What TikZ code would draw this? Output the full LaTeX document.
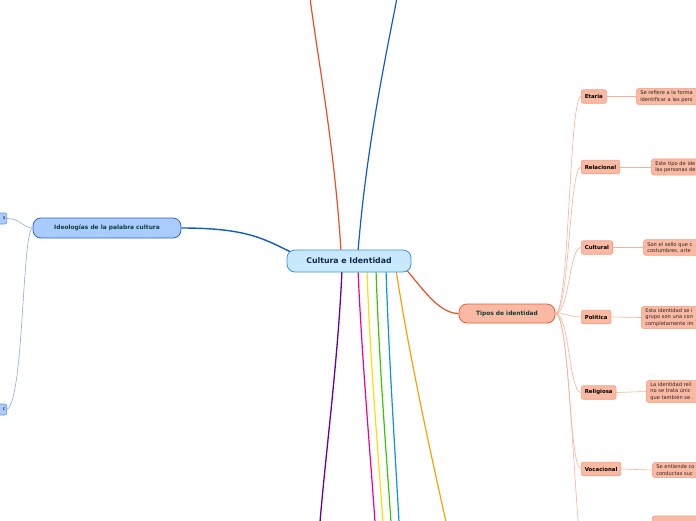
\documentclass[tikz,border=0pt]{standalone}
\usepackage{fontspec}
\setmainfont{DejaVu Sans}
\usepackage{xcolor}
\usepackage{tikz}
\usetikzlibrary{positioning}

\definecolor{ciFill}{HTML}{C8E9FB}
\definecolor{ciLine}{HTML}{3595D8}
\definecolor{ciText}{HTML}{14284F}
\definecolor{ideoFill}{HTML}{A9CBFE}
\definecolor{ideoLine}{HTML}{2E66C8}
\definecolor{tiposFill}{HTML}{F9B9A2}
\definecolor{tiposLine}{HTML}{EE5B36}
\definecolor{darkTeal}{HTML}{10403A}
\definecolor{childLine}{HTML}{F59E82}
\definecolor{branchBlue}{HTML}{0B5EC6}
\definecolor{branchRed}{HTML}{EE4E24}

\begin{document}
\begin{tikzpicture}[x=1pt, y=-1pt,
central/.style={rectangle, draw=ciLine, line width=0.8pt, fill=ciFill, rounded corners=8pt, minimum width=124pt, minimum height=22pt, align=center, text=ciText, font=\fontsize{7.8}{9}\selectfont\bfseries},
mainblue/.style={rectangle, draw=ideoLine, line width=0.8pt, fill=ideoFill, rounded corners=8pt, minimum width=148pt, minimum height=20pt, align=center, text=darkTeal, font=\fontsize{5.9}{7}\selectfont\bfseries},
mainred/.style={rectangle, draw=tiposLine, line width=0.8pt, fill=tiposFill, rounded corners=8pt, minimum width=96pt, minimum height=19pt, align=center, text=darkTeal, font=\fontsize{5.9}{7}\selectfont\bfseries},
tipo/.style={rectangle, draw=childLine, line width=0.6pt, fill=tiposFill, rounded corners=2pt, minimum height=13.5pt, inner xsep=3.5pt, inner ysep=0pt, anchor=west, font=\fontsize{5.4}{6}\selectfont\bfseries},
desc/.style={rectangle, draw=childLine, line width=0.6pt, fill=tiposFill, rounded corners=3pt, inner xsep=4pt, inner ysep=2.5pt, minimum width=120pt, anchor=west, align=left, text width=112pt, text=black!85, font=\fontsize{5.1}{6.2}\selectfont},
leaf/.style={rectangle, draw=ideoLine!70, line width=0.6pt, fill=ideoFill, rounded corners=2pt, minimum height=11pt, inner xsep=1.2pt, inner ysep=0pt, text width=12pt, anchor=east, align=right, font=\fontsize{4.8}{6}\selectfont},
link/.style={draw=childLine!80, line width=0.6pt},
bluelink/.style={draw=ideoLine!55, line width=0.6pt}
]
\useasboundingbox (0,0) rectangle (696,520);
\clip (0,0) rectangle (696,520);

% Branches leaving the central topic
\coordinate (top_red) at (310,-2);
\coordinate (top_blue) at (397,-2);
\coordinate (bot_purple) at (320,522);
\coordinate (bot_pink) at (375,522);
\coordinate (bot_yellow) at (383,522);
\coordinate (bot_green) at (391,522);
\coordinate (bot_cyan) at (399,522);
\coordinate (bot_amber) at (446,522);

\draw[branchRed, line width=1.2pt] (341,252) .. controls (335,150) and (318,60) .. (top_red);
\draw[branchBlue, line width=1.2pt] (358,252) .. controls (366,150) and (385,60) .. (top_blue);
\draw[violet!80!blue, line width=1.3pt] (342,270) .. controls (338,360) and (326,450) .. (bot_purple);
\draw[magenta!90!red, line width=1.2pt] (358,270) .. controls (362,360) and (370,450) .. (bot_pink);
\draw[yellow!80!orange, line width=1.2pt] (367,270) .. controls (370,360) and (378,450) .. (bot_yellow);
\draw[green!55!olive, line width=1.2pt] (376,270) .. controls (379,360) and (386,450) .. (bot_green);
\draw[cyan!80!blue, line width=1.2pt] (386,270) .. controls (389,360) and (395,450) .. (bot_cyan);
\draw[orange!75!yellow, line width=1.2pt] (396,270) .. controls (410,360) and (430,450) .. (bot_amber);

% Main topics
\node[mainblue] (ideologias) at (107,228) {Ideologías de la palabra cultura};
\node[mainred] (tipos) at (507,313.5) {Tipos de identidad};

\draw[branchBlue, line width=1.4pt] (ideologias.east) .. controls (250,228) and (265,240) .. (293,253);
\draw[branchRed, line width=1.2pt] (405,268) .. controls (425,292) and (440,313.5) .. (tipos.west);

% Central topic
\node[central] (cultura) at (349,261) {Cultura e Identidad};

% Leaves of Ideologias (cut at the left edge)
\node[leaf] (ideo_a) at (7,218.5) {s};
\node[leaf] (ideo_b) at (7,409.5) {c};
\draw[bluelink] (ideologias.west) .. controls (24,228) and (20,218.5) .. (ideo_a.east);
\draw[bluelink] (ideologias.west) .. controls (22,230) and (24,400) .. (ideo_b.east);

% Tipos de identidad
\node[tipo] (etaria) at (581,96.5) {Etaria};
\node[tipo] (relacional) at (581,167) {Relacional};
\node[tipo] (cultural) at (581,247.5) {Cultural};
\node[tipo] (politica) at (581,317) {Política};
\node[tipo] (religiosa) at (581,392.5) {Religiosa};
\node[tipo] (vocacional) at (581,469) {Vocacional};
\coordinate (hidden_tipo) at (581,548);

\node[desc] (etaria_d) at (636,96.5) {Se refiere a la forma\\identificar a las pers};
\node[desc] (relacional_d) at (651,167) {Este tipo de ide\\las personas de};
\node[desc] (cultural_d) at (643,247.5) {Son el sello que c\\costumbres, arte};
\node[desc] (politica_d) at (641,317.5) {Esta identidad se i\\grupo son una con\\completamente im};
\node[desc] (religiosa_d) at (646,391.5) {La identidad reli\\no se trata únic\\que también se .};
\node[desc] (vocacional_d) at (652,470) {Se entiende co\\conductas suc};
\node[desc, anchor=north west, minimum height=14pt] (hidden_d) at (652,515.5) {};

% Connections
\foreach \t in {etaria, relacional, cultural, politica, religiosa, vocacional}
  \draw[link] (tipos.east) .. controls +(14,0) and +(-12,0) .. (\t.west);
\draw[link] (tipos.east) .. controls +(14,0) and +(-8,-60) .. (hidden_tipo);

\foreach \t in {etaria, relacional, cultural, politica, religiosa, vocacional}
  \draw[link] (\t.east) -- (\t_d.west);

\end{tikzpicture}
\end{document}
